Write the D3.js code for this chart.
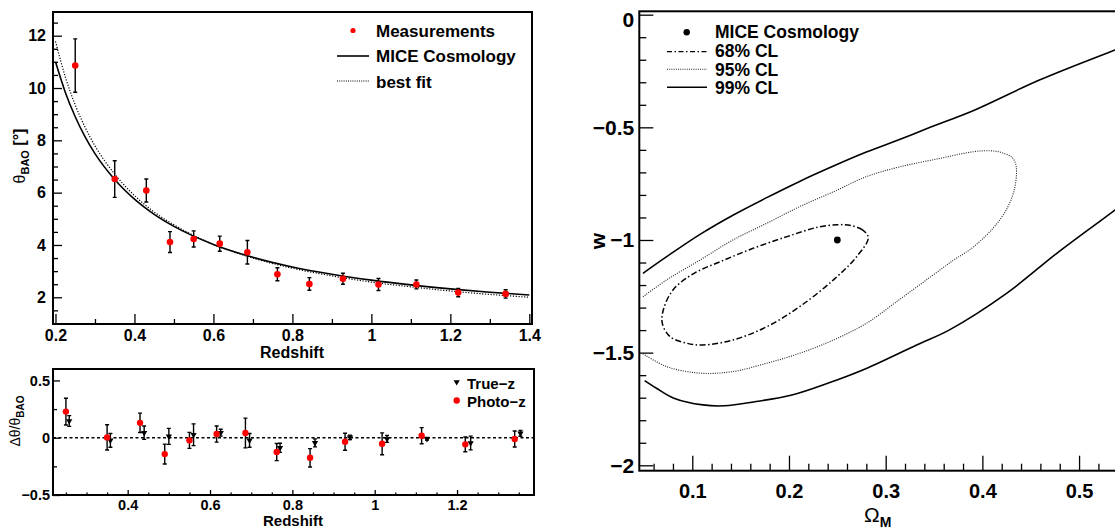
<!DOCTYPE html>
<html>
<head>
<meta charset="utf-8">
<script src="https://cdn.jsdelivr.net/npm/d3@7"></script>
<style>
body { margin: 0; background: #fff; }
svg text { font-family: "Liberation Sans", Arial, Helvetica, sans-serif; font-weight: bold; }
</style>
</head>
<body>
<div id="chart"></div>
<script>
// ---- theta_BAO vs redshift (top left) ----
var zCurve    = [0.2, 0.225, 0.25, 0.275, 0.3, 0.35, 0.4, 0.45, 0.5, 0.6, 0.7, 0.8, 0.9, 1.0, 1.1, 1.2, 1.3, 1.4];
var thetaMice = [11.00, 9.83, 8.90, 8.13, 7.49, 6.50, 5.75, 5.17, 4.71, 4.02, 3.53, 3.16, 2.88, 2.655, 2.473, 2.322, 2.194, 2.086];
var thetaFit  = [11.78, 10.42, 9.35, 8.50, 7.79, 6.71, 5.89, 5.26, 4.77, 4.02, 3.50, 3.11, 2.82, 2.58, 2.40, 2.24, 2.11, 2.00];

var zBins     = [0.25, 0.35, 0.43, 0.49, 0.55, 0.616, 0.686, 0.762, 0.843, 0.928, 1.018, 1.114, 1.22, 1.34];
var thetaMeas = [10.86, 6.52, 6.08, 4.11, 4.23, 4.05, 3.72, 2.88, 2.51, 2.71, 2.49, 2.49, 2.18, 2.13];
var thetaErr  = [1.02, 0.70, 0.44, 0.40, 0.31, 0.29, 0.45, 0.25, 0.24, 0.21, 0.23, 0.17, 0.16, 0.16];

// ---- residuals (bottom left) ----
var photoDelta = [0.228, 0.003, 0.13, -0.143, -0.023, 0.032, 0.041, -0.125, -0.175, -0.035, -0.053, 0.018, -0.058, -0.011];
var photoErr   = [0.117, 0.11, 0.085, 0.087, 0.07, 0.07, 0.13, 0.075, 0.08, 0.074, 0.095, 0.07, 0.065, 0.07];
var zTrue      = [0.258, 0.358, 0.44, 0.5, 0.56, 0.626, 0.696, 0.77, 0.855, 0.94, 1.03, 1.127, 1.233, 1.354];
var trueDelta  = [0.146, -0.023, 0.044, 0.012, 0.026, 0.044, -0.023, -0.088, -0.045, 0.003, -0.011, -0.009, -0.046, 0.038];
var trueErr    = [0.047, 0.06, 0.058, 0.07, 0.095, 0.03, 0.06, 0.04, 0.035, 0.02, 0.03, 0.012, 0.06, 0.025];

// ---- contours in (Omega_M, w) (right) ----
var miceCosmo = [0.25, -1.0];
var cl68 = [[0.282,-0.99],[0.276,-0.955],[0.264,-0.936],[0.250,-0.932],[0.229,-0.944],[0.198,-0.985],[0.163,-1.037],
            [0.129,-1.096],[0.101,-1.150],[0.080,-1.222],[0.070,-1.311],[0.069,-1.370],[0.077,-1.429],[0.094,-1.458],
            [0.111,-1.466],[0.142,-1.444],[0.177,-1.385],[0.211,-1.296],[0.246,-1.177],[0.270,-1.074]];
var cl95 = [[0.049,-1.505],[0.0735,-1.562],[0.108,-1.591],[0.142,-1.584],[0.177,-1.547],[0.211,-1.503],[0.246,-1.444],
            [0.280,-1.370],[0.315,-1.262],[0.346,-1.165],[0.370,-1.090],[0.391,-1.030],[0.418,-0.911],[0.432,-0.793],
            [0.435,-0.675],[0.431,-0.635],[0.420,-0.612],[0.408,-0.604],[0.391,-0.608],[0.356,-0.638],[0.315,-0.675],
            [0.280,-0.719],[0.246,-0.786],[0.211,-0.852],[0.177,-0.926],[0.142,-1.000],[0.108,-1.089],[0.0735,-1.177],
            [0.049,-1.252]];
var cl99Upper = [[0.049,-1.148],[0.0735,-1.074],[0.108,-0.975],[0.142,-0.890],[0.177,-0.812],[0.211,-0.740],[0.246,-0.672],
                 [0.280,-0.610],[0.315,-0.553],[0.346,-0.500],[0.391,-0.425],[0.459,-0.290],[0.537,-0.157],[0.560,-0.120]];
var cl99Lower = [[0.0507,-1.624],[0.063,-1.658],[0.081,-1.702],[0.111,-1.732],[0.133,-1.736],[0.166,-1.717],[0.203,-1.688],
                 [0.240,-1.636],[0.280,-1.570],[0.332,-1.466],[0.366,-1.399],[0.425,-1.237],[0.477,-1.059],[0.537,-0.867],
                 [0.560,-0.790]];

// ---- ticks ----
var topXMajor = [0.2, 0.4, 0.6, 0.8, 1.0, 1.2, 1.4];
var topXMinor = [0.3, 0.5, 0.7, 0.9, 1.1, 1.3];
var topYMajor = [2, 4, 6, 8, 10, 12];
var topYMinor = [1, 1.5, 2.5, 3, 3.5, 4.5, 5, 5.5, 6.5, 7, 7.5, 8.5, 9, 9.5, 10.5, 11, 11.5, 12.5];
var botXMajor = [0.4, 0.6, 0.8, 1.0, 1.2];
var botXMinor = [0.25, 0.3, 0.35, 0.45, 0.5, 0.55, 0.65, 0.7, 0.75, 0.85, 0.9, 0.95, 1.05, 1.1, 1.15, 1.25, 1.3, 1.35];
var botYMajor = [-0.5, 0, 0.5];
var botYMinor = [-0.25, 0.25];
var rXMajor = [0.1, 0.2, 0.3, 0.4, 0.5];
var rXMinor = [0.06, 0.08, 0.12, 0.14, 0.16, 0.18, 0.22, 0.24, 0.26, 0.28, 0.32, 0.34, 0.36, 0.38, 0.42, 0.44, 0.46, 0.48, 0.52, 0.54];
var rYMajor = [0, -0.5, -1, -1.5, -2];
var rYMinor = [-0.1, -0.2, -0.3, -0.4, -0.6, -0.7, -0.8, -0.9, -1.1, -1.2, -1.3, -1.4, -1.6, -1.7, -1.8, -1.9];

var W = 1115, H = 529;
var svg = d3.select("#chart").append("svg").attr("width", W).attr("height", H);
svg.append("rect").attr("width", W).attr("height", H).attr("fill", "#fff");

var fmt = function(d) { return String(Math.round(d * 100) / 100).replace("-", "\u2212"); };

function drawAxes(x, y, o) {
  var xr = x.range(), yr = y.range();
  function put(axis, tr, font) {
    var g = svg.append("g").attr("transform", tr).call(axis);
    g.select(".domain").remove();
    g.attr("font-family", null).attr("font-size", font || 10);
    g.selectAll("line").attr("stroke-width", 1.3);
    g.selectAll("text").attr("fill", "#000");
    return g;
  }
  put(d3.axisBottom(x).tickValues(o.xMajor).tickSize(-o.xMaj).tickPadding(o.xPad).tickFormat(fmt), "translate(0," + yr[0] + ")", o.xFont);
  put(d3.axisBottom(x).tickValues(o.xMinor).tickSize(-o.xMin).tickFormat(""), "translate(0," + yr[0] + ")");
  var gy = put(d3.axisLeft(y).tickValues(o.yMajor).tickSize(-o.yMaj).tickPadding(o.yPad).tickFormat(fmt), "translate(" + xr[0] + ",0)", o.yFont);
  put(d3.axisLeft(y).tickValues(o.yMinor).tickSize(-o.yMin).tickFormat(""), "translate(" + xr[0] + ",0)");
  svg.append("rect")
    .attr("x", xr[0]).attr("y", yr[1]).attr("width", xr[1] - xr[0]).attr("height", yr[0] - yr[1])
    .attr("fill", "none").attr("stroke", "#000").attr("stroke-width", 2);
  return gy;
}

function errorBars(g, xs, vals, errs, x, y) {
  g.selectAll(null).data(vals).enter().append("path")
    .attr("d", function(d, i) {
      var px = x(xs[i]), y0 = y(d - errs[i]), y1 = y(d + errs[i]);
      return "M" + px + "," + y0 + "V" + y1 + "M" + (px - 2) + "," + y0 + "H" + (px + 2) + "M" + (px - 2) + "," + y1 + "H" + (px + 2);
    })
    .attr("stroke", "#000").attr("stroke-width", 1.4).attr("fill", "none");
}

// ================= top left =================
var xT = d3.scaleLinear().domain([0.1937, 1.4068]).range([53, 532]);
var yT = d3.scaleLinear().domain([0.979, 12.906]).range([324, 12]);
drawAxes(xT, yT, {xMajor: topXMajor, xMinor: topXMinor, yMajor: topYMajor, yMinor: topYMinor,
  xMaj: 10, xMin: 5, yMaj: 9, yMin: 5, xPad: 6, yPad: 7, xFont: 16, yFont: 16});

var lineT = function(vals) {
  return d3.line().x(function(d, i) { return xT(zCurve[i]); }).y(function(d) { return yT(d); })
    .curve(d3.curveMonotoneX)(vals);
};
svg.append("path").attr("d", lineT(thetaFit)).attr("fill", "none").attr("stroke", "#000")
  .attr("stroke-width", 1.2).attr("stroke-dasharray", "1.2,1.6");
svg.append("path").attr("d", lineT(thetaMice)).attr("fill", "none").attr("stroke", "#000").attr("stroke-width", 1.6);

var gMeas = svg.append("g");
errorBars(gMeas, zBins, thetaMeas, thetaErr, xT, yT);
gMeas.selectAll("circle").data(thetaMeas).enter().append("circle")
  .attr("cx", function(d, i) { return xT(zBins[i]); }).attr("cy", function(d) { return yT(d); })
  .attr("r", 3.3).attr("fill", "#ff0000");

// legend
svg.append("circle").attr("cx", 353).attr("cy", 30.5).attr("r", 2.6).attr("fill", "#ff0000");
svg.append("line").attr("x1", 337).attr("x2", 369).attr("y1", 56).attr("y2", 56).attr("stroke", "#000").attr("stroke-width", 1.6);
svg.append("line").attr("x1", 337).attr("x2", 369).attr("y1", 81).attr("y2", 81).attr("stroke", "#000")
  .attr("stroke-width", 1.1).attr("stroke-dasharray", "1,1.2");
[["Measurements", 37], ["MICE Cosmology", 62], ["best fit", 88]].forEach(function(t) {
  svg.append("text").attr("x", 376).attr("y", t[1]).attr("font-size", 17).text(t[0]);
});

// axis titles
svg.append("text").attr("x", 260).attr("y", 358).attr("font-size", 16).text("Redshift");
var tT = svg.append("text").attr("transform", "translate(25,156) rotate(-90)").attr("text-anchor", "middle");
tT.append("tspan").attr("font-size", 16).attr("font-weight", "normal").text("\u03b8");
tT.append("tspan").attr("font-size", 11).attr("dy", 4).text("BAO");
tT.append("tspan").attr("font-size", 16).attr("dy", -4).text(" [\u00b0]");

// ================= bottom left =================
var xB = d3.scaleLinear().domain([0.2186, 1.3869]).range([53, 534]);
var yB = d3.scaleLinear().domain([-0.5, 0.6]).range([495, 369]);
drawAxes(xB, yB, {xMajor: botXMajor, xMinor: botXMinor, yMajor: botYMajor, yMinor: botYMinor,
  xMaj: 5, xMin: 2.5, yMaj: 7, yMin: 4, xPad: 5, yPad: 3, xFont: 14.5, yFont: 14.5});

svg.append("line").attr("x1", xB.range()[0]).attr("x2", xB.range()[1]).attr("y1", yB(0)).attr("y2", yB(0))
  .attr("stroke", "#000").attr("stroke-width", 1.5).attr("stroke-dasharray", "3,2.5");

var gRes = svg.append("g");
errorBars(gRes, zBins, photoDelta, photoErr, xB, yB);
errorBars(gRes, zTrue, trueDelta, trueErr, xB, yB);
var tri = d3.symbol().type(d3.symbolTriangle).size(17);
gRes.selectAll(".tri").data(trueDelta).enter().append("path")
  .attr("d", tri)
  .attr("transform", function(d, i) { return "translate(" + xB(zTrue[i]) + "," + yB(d) + ") rotate(180)"; })
  .attr("fill", "#000");
gRes.selectAll("circle").data(photoDelta).enter().append("circle")
  .attr("cx", function(d, i) { return xB(zBins[i]); }).attr("cy", function(d) { return yB(d); })
  .attr("r", 3.2).attr("fill", "#ff0000");

svg.append("path").attr("d", tri).attr("transform", "translate(456.7,382) rotate(180)").attr("fill", "#000");
svg.append("circle").attr("cx", 456.7).attr("cy", 400.5).attr("r", 3.2).attr("fill", "#ff0000");
svg.append("text").attr("x", 467).attr("y", 389).attr("font-size", 15).text("True\u2212z");
svg.append("text").attr("x", 467).attr("y", 406.5).attr("font-size", 15).text("Photo\u2212z");

svg.append("text").attr("x", 263).attr("y", 526).attr("font-size", 15).text("Redshift");
var tB = svg.append("text").attr("transform", "translate(20,421) rotate(-90)").attr("text-anchor", "middle");
tB.append("tspan").attr("font-size", 14).attr("font-weight", "normal").text("\u0394\u03b8/\u03b8");
tB.append("tspan").attr("font-size", 10).attr("dy", 4).text("BAO");

// ================= right =================
var xR = d3.scaleLinear().domain([0.0452, 0.5475]).range([639.3, 1125]);
var yR = d3.scaleLinear().domain([-2.024, 0.015]).range([470.7, 11.3]);
var gyR = drawAxes(xR, yR, {xMajor: rXMajor, xMinor: rXMinor, yMajor: rYMajor, yMinor: rYMinor,
  xMaj: 15, xMin: 7, yMaj: 14, yMin: 7, xPad: 13, yPad: 5, xFont: 20, yFont: 21});
gyR.selectAll("text").filter(function(d) { return d === 0; }).attr("y", 5);

svg.append("clipPath").attr("id", "clipR").append("rect")
  .attr("x", 639.3).attr("y", 11.3).attr("width", 1125 - 639.3).attr("height", 470.7 - 11.3);
var gC = svg.append("g").attr("clip-path", "url(#clipR)");
var px = function(d) { return xR(d[0]); }, py = function(d) { return yR(d[1]); };
var openLine = d3.line().x(px).y(py).curve(d3.curveCatmullRom.alpha(0.5));
var closedLine = d3.line().x(px).y(py).curve(d3.curveCatmullRomClosed.alpha(0.5));

gC.append("path").attr("d", openLine(cl99Upper)).attr("fill", "none").attr("stroke", "#000").attr("stroke-width", 1.6);
gC.append("path").attr("d", openLine(cl99Lower)).attr("fill", "none").attr("stroke", "#000").attr("stroke-width", 1.6);
gC.append("path").attr("d", openLine(cl95)).attr("fill", "none").attr("stroke", "#222")
  .attr("stroke-width", 1.1).attr("stroke-dasharray", "1,1.3");
gC.append("path").attr("d", closedLine(cl68)).attr("fill", "none").attr("stroke", "#000")
  .attr("stroke-width", 1.5).attr("stroke-dasharray", "6,2.5,1.5,2.5");
gC.append("circle").attr("cx", xR(miceCosmo[0])).attr("cy", yR(miceCosmo[1])).attr("r", 3.4).attr("fill", "#000");

// legend
svg.append("circle").attr("cx", 686.7).attr("cy", 32.3).attr("r", 3.2).attr("fill", "#000");
svg.append("line").attr("x1", 667).attr("x2", 707).attr("y1", 51.7).attr("y2", 51.7).attr("stroke", "#000")
  .attr("stroke-width", 1.3).attr("stroke-dasharray", "5,2.5,1.5,2.5");
svg.append("line").attr("x1", 667).attr("x2", 707).attr("y1", 69.3).attr("y2", 69.3).attr("stroke", "#222")
  .attr("stroke-width", 1.1).attr("stroke-dasharray", "1,1.2");
svg.append("line").attr("x1", 667).attr("x2", 707).attr("y1", 87.3).attr("y2", 87.3).attr("stroke", "#000").attr("stroke-width", 1.6);
[["MICE Cosmology", 37.7], ["68% CL", 57.3], ["95% CL", 75.7], ["99% CL", 94]].forEach(function(t) {
  svg.append("text").attr("x", 715).attr("y", t[1]).attr("font-size", 17.5).text(t[0]);
});

svg.append("text").attr("transform", "translate(605,241) rotate(-90)").attr("text-anchor", "middle")
  .attr("font-size", 21).text("w");
var tR = svg.append("text").attr("x", 864).attr("y", 522);
tR.append("tspan").attr("font-size", 21).attr("font-weight", "normal").text("\u03a9");
tR.append("tspan").attr("font-size", 14).attr("dy", 5).text("M");
</script>
</body>
</html>
